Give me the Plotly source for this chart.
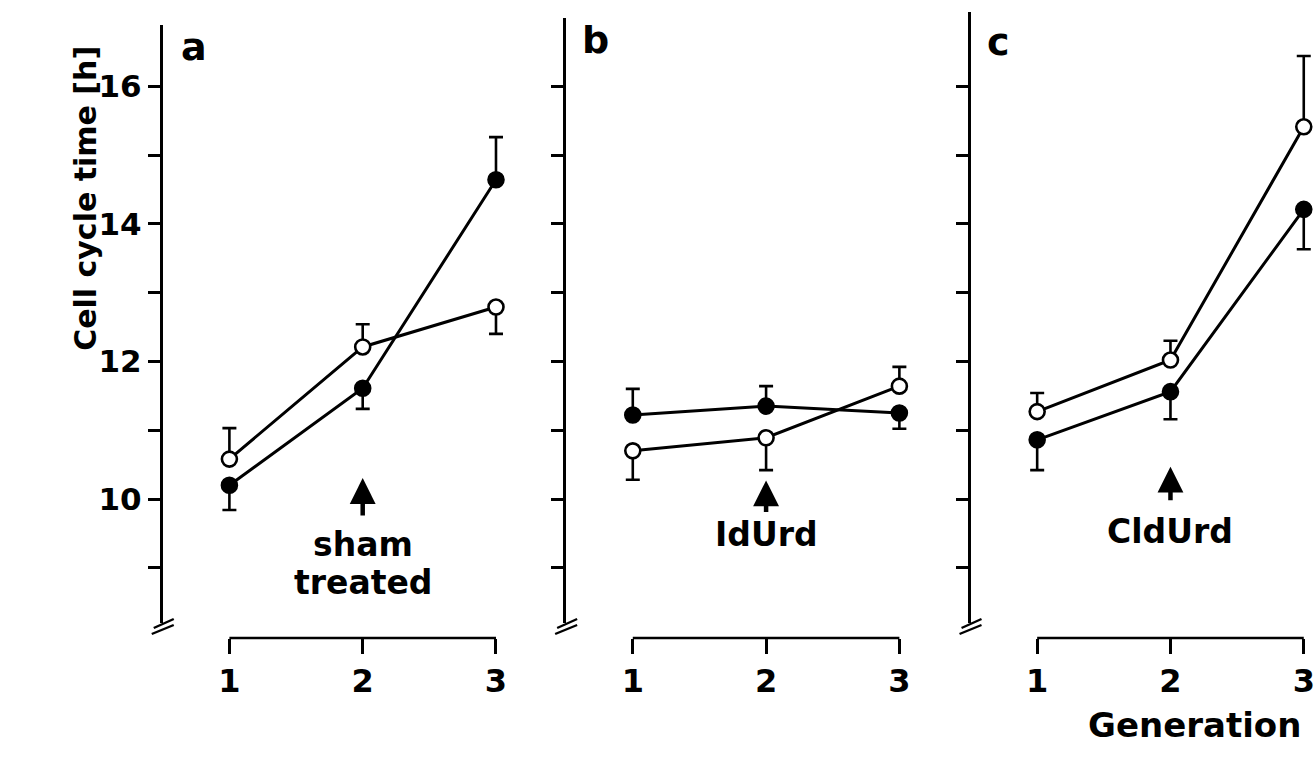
import plotly.graph_objects as go

# ---------------- data ----------------
generations = [1, 2, 3]
gen_labels = ["1", "2", "3"]
panels = ["a", "b", "c"]
treatments = [["sham", "treated"], ["IdUrd"], ["CldUrd"]]

a_filled = [10.20, 11.61, 14.64]
a_filled_up = [0, 0, 0.62]
a_filled_down = [0.36, 0.30, 0]
a_open = [10.58, 12.21, 12.79]
a_open_up = [0.45, 0.33, 0]
a_open_down = [0, 0, 0.39]

b_filled = [11.22, 11.35, 11.25]
b_filled_up = [0.38, 0.29, 0]
b_filled_down = [0, 0, 0.23]
b_open = [10.70, 10.89, 11.64]
b_open_up = [0, 0, 0.28]
b_open_down = [0.42, 0.47, 0]

c_filled = [10.86, 11.56, 14.21]
c_filled_up = [0, 0, 0]
c_filled_down = [0.44, 0.40, 0.58]
c_open = [11.27, 12.02, 15.41]
c_open_up = [0.27, 0.28, 1.03]
c_open_down = [0, 0, 0]

y_tickvals = [9, 10, 11, 12, 13, 14, 15, 16]
y_ticktext_a = ["", "10", "", "12", "", "14", "", "16"]
arrow_tip = [10.305, 10.27, 10.47]

# ---------------- geometry helpers ----------------
W, H = 1315, 757
PX_PER_Y = 68.8     # pixels per hour
PY_10 = 499         # pixel row of 10 h
PX_PER_X = 133.5    # pixels per generation

def yval(py):
    return 10 + (PY_10 - py) / PX_PER_Y

def fy(py):
    return (H - py) / H

def fx(px):
    return px / W

FONT = "DejaVu Sans"
axis_x_px = [163, 567, 972]
axis_top_px = [25, 18, 12]
axis_bottom_px = 623
xaxis_line_py = 638

fig = go.Figure()

series = [
    (a_filled, a_filled_up, a_filled_down, a_open, a_open_up, a_open_down),
    (b_filled, b_filled_up, b_filled_down, b_open, b_open_up, b_open_down),
    (c_filled, c_filled_up, c_filled_down, c_open, c_open_up, c_open_down),
]

for i, (fv, fu, fd, ov, ou, od) in enumerate(series):
    xa = "x" if i == 0 else f"x{i+1}"
    ya = "y" if i == 0 else f"y{i+1}"
    for vals, up, dn, fill in [(fv, fu, fd, "black"), (ov, ou, od, "white")]:
        fig.add_trace(go.Scatter(
            x=generations, y=vals, xaxis=xa, yaxis=ya, mode="lines+markers",
            line=dict(color="black", width=3),
            marker=dict(size=15, color=fill, line=dict(color="black", width=2.6)),
            error_y=dict(type="data", symmetric=False, array=up, arrayminus=dn,
                         color="black", thickness=2.6, width=7),
            showlegend=False, hoverinfo="skip",
        ))

layout = dict(
    width=W, height=H, margin=dict(l=0, r=0, t=0, b=0),
    paper_bgcolor="white", plot_bgcolor="white", showlegend=False,
)

shapes = []
annotations = []
for i in range(3):
    sx = "" if i == 0 else str(i + 1)
    left = axis_x_px[i]
    right = min(left + 380, W)
    xr = [0.5, 0.5 + (right - left) / PX_PER_X]
    layout[f"xaxis{sx}"] = dict(
        domain=[fx(left), fx(right)], range=xr,
        anchor="free", position=fy(xaxis_line_py),
        tickvals=generations, ticktext=gen_labels,
        ticks="outside", ticklen=15, tickwidth=2.5, tickcolor="black",
        showline=False, showgrid=False, zeroline=False,
        ticklabelstandoff=0, ticklabeloverflow="allow",
        tickfont=dict(family=FONT, size=32, color="black", weight="bold"),
    )
    top = axis_top_px[i]
    layout[f"yaxis{sx}"] = dict(
        domain=[fy(axis_bottom_px), fy(top)],
        range=[yval(axis_bottom_px), yval(top)],
        anchor="x" + sx,
        tickvals=y_tickvals,
        ticktext=y_ticktext_a if i == 0 else [""] * len(y_tickvals),
        ticks="outside", ticklen=12, tickwidth=2.5, tickcolor="black",
        showline=True, linewidth=3, linecolor="black",
        showgrid=False, zeroline=False,
        tickfont=dict(family=FONT, size=31, color="black", weight="bold"),
    )
    # detached x-axis line from generation 1 to 3
    shapes.append(dict(type="line", xref="x" + sx, yref="paper",
                       x0=1, x1=3, y0=fy(xaxis_line_py), y1=fy(xaxis_line_py),
                       line=dict(color="black", width=2.5)))
    # axis break marks
    for (x0, y0, x1, y1) in [(-9, 628, 11, 619), (-11, 634, 11, 625)]:
        shapes.append(dict(type="line", xref="paper", yref="paper",
                           x0=fx(left + x0), y0=fy(y0), x1=fx(left + x1), y1=fy(y1),
                           line=dict(color="black", width=2.4)))
    # panel letter
    annotations.append(dict(text=panels[i], xref="paper", yref="paper",
                            x=fx(left + 31 + (0 if i == 0 else (-2 if i == 1 else -3))),
                            y=fy([47, 40, 42][i]), showarrow=False,
                            xanchor="center", yanchor="middle",
                            font=dict(family=FONT, size=38, color="black", weight="bold")))
    # treatment arrow
    tail_px = [39, 33, 35][i]
    annotations.append(dict(text="", x=2, y=arrow_tip[i], xref="x" + sx, yref="y" + sx,
                            showarrow=True, ax=0, ay=tail_px, arrowhead=2,
                            arrowsize=1.15, arrowwidth=4.5, arrowcolor="black"))
    # treatment text
    rows = [[544, 582], [534], [531]][i]
    for txt, py in zip(treatments[i], rows):
        annotations.append(dict(text=txt, x=2, xref="x" + sx, yref="paper", y=fy(py),
                                showarrow=False, xanchor="center", yanchor="middle",
                                font=dict(family=FONT, size=33, color="black", weight="bold")))

annotations.append(dict(text="Cell cycle time [h]", xref="paper", yref="paper",
                        x=fx(85), y=fy(198), textangle=-90, showarrow=False,
                        xanchor="center", yanchor="middle",
                        font=dict(family=FONT, size=30, color="black", weight="bold")))
annotations.append(dict(text="Generation", xref="paper", yref="paper",
                        x=fx(1196), y=fy(725), showarrow=False,
                        xanchor="center", yanchor="middle",
                        font=dict(family=FONT, size=34, color="black", weight="bold")))

layout["shapes"] = shapes
layout["annotations"] = annotations
fig.update_layout(**layout)
fig.write_html(
    "out.html",
    config={"displayModeBar": False},
    post_script="document.body.style.margin='0px';document.body.style.overflow='hidden';",
)
